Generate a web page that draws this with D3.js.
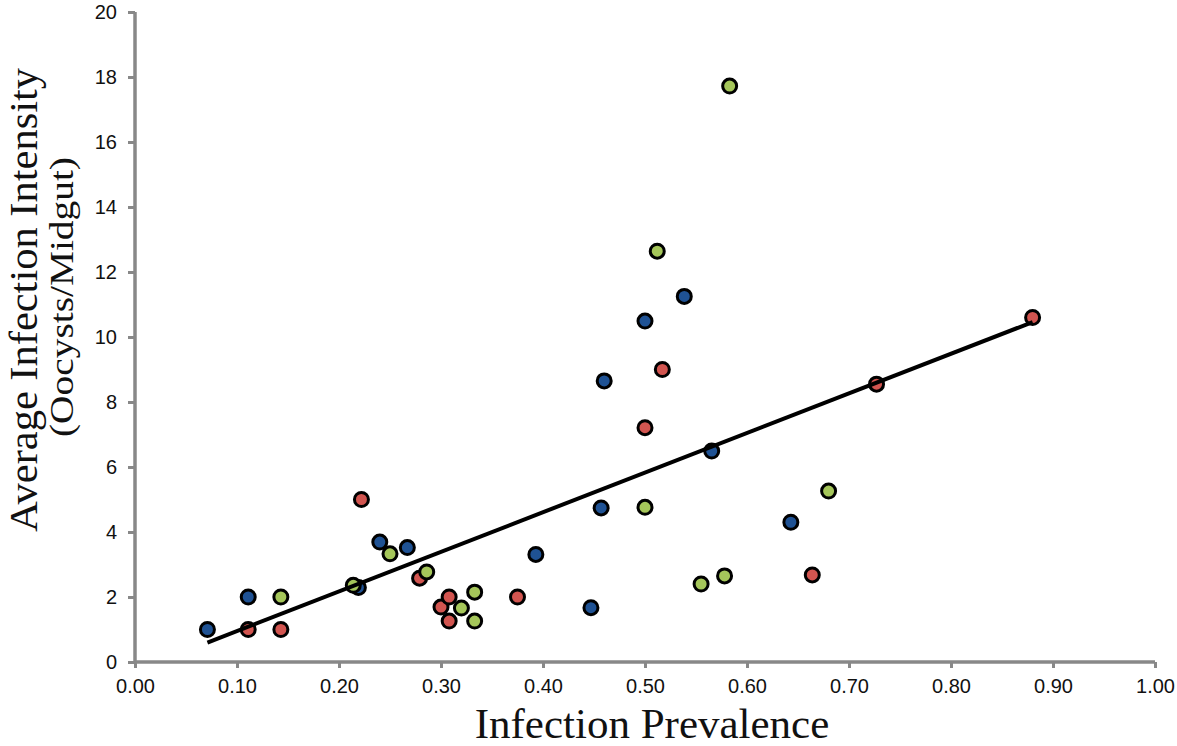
<!DOCTYPE html>
<html>
<head>
<meta charset="utf-8">
<script src="https://cdn.jsdelivr.net/npm/d3@7"></script>
<style>
html,body{margin:0;padding:0;background:#fff;}
svg{display:block;}
</style>
</head>
<body>
<svg id="chart" width="1177" height="746"></svg>
<script>
// ---- data ----
const blueX  = [0.071, 0.111, 0.219, 0.240, 0.267, 0.393, 0.447, 0.457, 0.460, 0.500, 0.5385, 0.5654, 0.643];
const blueY  = [1.00, 2.00, 2.29, 3.69, 3.52, 3.31, 1.67, 4.74, 8.65, 10.49, 11.25, 6.49, 4.30];
const redX   = [0.111, 0.143, 0.222, 0.279, 0.300, 0.308, 0.308, 0.375, 0.500, 0.517, 0.664, 0.727, 0.880];
const redY   = [1.00, 1.00, 5.00, 2.58, 1.69, 2.00, 1.26, 2.00, 7.21, 9.00, 2.68, 8.55, 10.60];
const greenX = [0.143, 0.214, 0.250, 0.286, 0.320, 0.333, 0.333, 0.500, 0.512, 0.555, 0.578, 0.583, 0.680];
const greenY = [2.00, 2.36, 3.33, 2.77, 1.66, 2.15, 1.26, 4.76, 12.64, 2.40, 2.65, 17.72, 5.26];
const xTicks = [0, 0.1, 0.2, 0.3, 0.4, 0.5, 0.6, 0.7, 0.8, 0.9, 1.0];
const yTicks = [0, 2, 4, 6, 8, 10, 12, 14, 16, 18, 20];
const xTitle = "Infection Prevalence";
const yTitle = "Average Infection Intensity";
const ySubTitle = "(Oocysts/Midgut)";

const seriesColors = ["#1f5294", "#d25550", "#a5c65a"];
const series = [
  {xs: blueX, ys: blueY, color: seriesColors[0]},
  {xs: redX, ys: redY, color: seriesColors[1]},
  {xs: greenX, ys: greenY, color: seriesColors[2]}
];

const svg = d3.select("#chart");
const x = d3.scaleLinear().domain([0, 1]).range([135, 1155]);
const y = d3.scaleLinear().domain([0, 20]).range([662, 12]);
const axisColor = "#888888";

// axes
const gx = svg.append("g").attr("transform", "translate(0,662)")
  .call(d3.axisBottom(x).tickValues(xTicks).tickFormat(d3.format(".2f")).tickSize(6).tickPadding(11));
const gy = svg.append("g").attr("transform", "translate(135,0)")
  .call(d3.axisLeft(y).tickValues(yTicks).tickFormat(d3.format("d")).tickSize(7).tickPadding(11));
[gx, gy].forEach(g => {
  g.select(".domain").attr("stroke", axisColor).attr("stroke-width", 3.5);
  g.selectAll(".tick line").attr("stroke", axisColor).attr("stroke-width", 3);
  g.selectAll(".tick text").attr("fill", "#111")
    .style("font-family", "'Liberation Sans', Arial, sans-serif").style("font-size", "20px");
});
gx.select(".domain").attr("d", "M135,0H1155");
gy.select(".domain").attr("d", "M0,662V12");

// points
const all = [];
series.forEach(s => s.xs.forEach((v, i) => all.push({x: v, y: s.ys[i], color: s.color})));
svg.append("g").selectAll("circle").data(all).join("circle")
  .attr("cx", d => x(d.x)).attr("cy", d => y(d.y)).attr("r", 7)
  .attr("fill", d => d.color).attr("stroke", "#000").attr("stroke-width", 3);

// linear trendline (least squares over all points)
const mx = d3.mean(all, d => d.x), my = d3.mean(all, d => d.y);
const slope = d3.sum(all, d => (d.x - mx) * (d.y - my)) / d3.sum(all, d => (d.x - mx) ** 2);
const icpt = my - slope * mx;
const [x0, x1] = d3.extent(all, d => d.x);
svg.append("path")
  .attr("d", d3.line().x(d => x(d)).y(d => y(icpt + slope * d))([x0, x1]))
  .attr("stroke", "#000").attr("stroke-width", 4).attr("fill", "none");

// titles
svg.append("text").attr("x", 652).attr("y", 738).attr("text-anchor", "middle")
  .style("font-family", "'Liberation Serif', 'Times New Roman', serif").style("font-size", "43px")
  .attr("fill", "#111").text(xTitle);
svg.append("text").attr("transform", "translate(37,300) rotate(-90)").attr("text-anchor", "middle")
  .style("font-family", "'Liberation Serif', 'Times New Roman', serif").style("font-size", "40px")
  .attr("textLength", 464).attr("lengthAdjust", "spacingAndGlyphs")
  .attr("fill", "#111").text(yTitle);
svg.append("text").attr("transform", "translate(73,297) rotate(-90)").attr("text-anchor", "middle")
  .style("font-family", "'Liberation Serif', 'Times New Roman', serif").style("font-size", "33px")
  .attr("textLength", 280).attr("lengthAdjust", "spacingAndGlyphs")
  .attr("fill", "#111").text(ySubTitle);
</script>
</body>
</html>
